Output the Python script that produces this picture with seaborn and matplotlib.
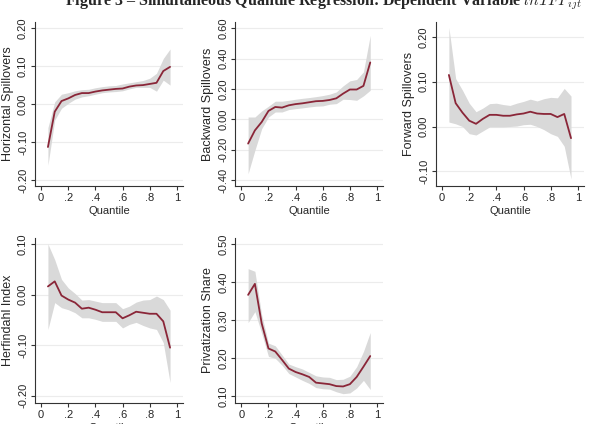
import numpy as np
import pandas as pd
import matplotlib
matplotlib.use("Agg")
import matplotlib.pyplot as plt
import seaborn as sns

# quantiles .05 ... .95
quantiles = [0.05, 0.10, 0.15, 0.20, 0.25, 0.30, 0.35, 0.40, 0.45, 0.50,
             0.55, 0.60, 0.65, 0.70, 0.75, 0.80, 0.85, 0.90, 0.95]

# Horizontal spillovers
horiz_est = [-0.113, -0.020, 0.008, 0.015, 0.024, 0.029, 0.029, 0.033, 0.036, 0.038,
             0.040, 0.041, 0.046, 0.049, 0.050, 0.053, 0.056, 0.087, 0.098]
horiz_lo = [-0.161, -0.042, -0.011, 0.002, 0.013, 0.019, 0.022, 0.026, 0.030, 0.032,
            0.033, 0.035, 0.040, 0.044, 0.044, 0.044, 0.034, 0.063, 0.050]
horiz_hi = [-0.062, 0.006, 0.026, 0.030, 0.035, 0.038, 0.039, 0.043, 0.046, 0.048,
            0.049, 0.053, 0.056, 0.059, 0.062, 0.068, 0.081, 0.120, 0.145]

# Backward spillovers
back_est = [-0.160, -0.073, -0.018, 0.055, 0.081, 0.077, 0.092, 0.100, 0.105, 0.112,
            0.119, 0.121, 0.127, 0.138, 0.169, 0.196, 0.196, 0.220, 0.374]
back_lo = [-0.358, -0.204, -0.062, 0.015, 0.048, 0.048, 0.064, 0.070, 0.075, 0.081,
           0.086, 0.088, 0.099, 0.103, 0.132, 0.130, 0.125, 0.154, 0.191]
back_hi = [0.015, 0.015, 0.055, 0.086, 0.119, 0.119, 0.125, 0.132, 0.138, 0.143,
           0.149, 0.156, 0.165, 0.180, 0.220, 0.253, 0.262, 0.312, 0.552]

# Forward spillovers
fwd_est = [0.115, 0.052, 0.031, 0.013, 0.006, 0.017, 0.026, 0.026, 0.024, 0.024,
           0.027, 0.029, 0.033, 0.029, 0.028, 0.028, 0.021, 0.028, -0.026]
fwd_lo = [0.010, 0.006, 0.000, -0.016, -0.019, -0.010, -0.001, -0.001, -0.001, 0.000,
          0.001, 0.004, 0.005, 0.000, -0.007, -0.016, -0.022, -0.044, -0.117]
fwd_hi = [0.221, 0.107, 0.081, 0.052, 0.033, 0.041, 0.051, 0.052, 0.049, 0.047,
          0.052, 0.056, 0.061, 0.057, 0.062, 0.065, 0.064, 0.085, 0.068]

# Herfindahl index
herf_est = [0.016, 0.026, -0.002, -0.010, -0.016, -0.028, -0.026, -0.030, -0.035, -0.035,
            -0.035, -0.047, -0.041, -0.034, -0.036, -0.038, -0.038, -0.053, -0.105]
herf_lo = [-0.069, -0.016, -0.026, -0.030, -0.036, -0.046, -0.046, -0.049, -0.053, -0.053,
           -0.053, -0.066, -0.059, -0.055, -0.061, -0.066, -0.069, -0.095, -0.174]
herf_hi = [0.100, 0.069, 0.030, 0.013, 0.002, -0.011, -0.010, -0.013, -0.016, -0.016,
           -0.016, -0.028, -0.023, -0.015, -0.011, -0.010, -0.003, -0.010, -0.031]

# Privatization share
priv_est = [0.366, 0.395, 0.291, 0.225, 0.217, 0.195, 0.172, 0.163, 0.157, 0.150,
            0.135, 0.133, 0.131, 0.126, 0.125, 0.131, 0.150, 0.177, 0.205]
priv_lo = [0.293, 0.322, 0.265, 0.204, 0.199, 0.181, 0.159, 0.150, 0.141, 0.133,
           0.122, 0.119, 0.118, 0.111, 0.106, 0.108, 0.121, 0.141, 0.117]
priv_hi = [0.435, 0.428, 0.313, 0.239, 0.232, 0.208, 0.184, 0.177, 0.171, 0.162,
           0.153, 0.150, 0.149, 0.143, 0.144, 0.152, 0.177, 0.217, 0.267]

x_ticks = [0, 0.2, 0.4, 0.6, 0.8, 1]
x_ticklabels = ["0", ".2", ".4", ".6", ".8", "1"]

panels = [
    ("Horizontal Spillovers", horiz_est, horiz_lo, horiz_hi, [-0.2, -0.1, 0.0, 0.1, 0.2], (-0.216, 0.216)),
    ("Backward Spillovers", back_est, back_lo, back_hi, [-0.4, -0.2, 0.0, 0.2, 0.4, 0.6], (-0.44, 0.64)),
    ("Forward Spillovers", fwd_est, fwd_lo, fwd_hi, [-0.1, 0.0, 0.1, 0.2], (-0.133, 0.233)),
    ("Herfindahl Index", herf_est, herf_lo, herf_hi, [-0.2, -0.1, 0.0, 0.1], (-0.214, 0.112)),
    ("Privatization Share", priv_est, priv_lo, priv_hi, [0.1, 0.2, 0.3, 0.4, 0.5], (0.082, 0.516)),
]

# axes positions (left, bottom, width, height) in figure fractions
positions = [
    (0.059, 0.561, 0.249, 0.387),
    (0.396, 0.561, 0.249, 0.387),
    (0.734, 0.561, 0.249, 0.387),
    (0.059, 0.050, 0.249, 0.389),
    (0.396, 0.050, 0.249, 0.389),
]

sns.set_style("white")
plt.rcParams['font.family'] = ['Liberation Sans', 'DejaVu Sans']
plt.rcParams['mathtext.fontset'] = 'cm'

line_color = "#8a2638"
band_color = "#d9d9d9"

fig = plt.figure(figsize=(5.94, 4.24), dpi=100)

for (label, est, lo, hi, yticks, ylim), pos in zip(panels, positions):
    ax = fig.add_axes(pos)
    df = pd.DataFrame({"Quantile": quantiles, "est": est, "lo": lo, "hi": hi})
    for yt in yticks:
        ax.axhline(yt, color="#ececec", lw=0.8, zorder=0)
    ax.fill_between(df["Quantile"], df["lo"], df["hi"], color=band_color, lw=0, zorder=1)
    sns.lineplot(data=df, x="Quantile", y="est", ax=ax, color=line_color, lw=1.3, zorder=2)
    ax.set_xlim(-0.045, 1.045)
    ax.set_ylim(*ylim)
    ax.set_xticks(x_ticks)
    ax.set_xticklabels(x_ticklabels)
    ax.set_yticks(yticks)
    ax.set_yticklabels([f"{v:.2f}" for v in yticks], rotation=90, va="center")
    ax.set_xlabel("Quantile", fontsize=8, labelpad=2)
    ax.set_ylabel(label, fontsize=9, labelpad=3)
    ax.tick_params(axis="both", labelsize=8, length=3, width=0.8, direction="out",
                   left=True, bottom=True, pad=2, color="#333333")
    for side in ["top", "right"]:
        ax.spines[side].set_visible(False)
    for side in ["left", "bottom"]:
        ax.spines[side].set_color("#333333")
        ax.spines[side].set_linewidth(0.8)

# title partly cut off at the top, as in the source scan
fig.text(0.109, 0.987, r"Figure 3 – Simultaneous Quantile Regression: Dependent Variable $lnTFP_{ijt}$",
         ha="left", va="baseline", fontsize=11.5, fontweight="bold",
         family=["Liberation Serif", "DejaVu Serif"])

fig.savefig("out.png", dpi=100)
